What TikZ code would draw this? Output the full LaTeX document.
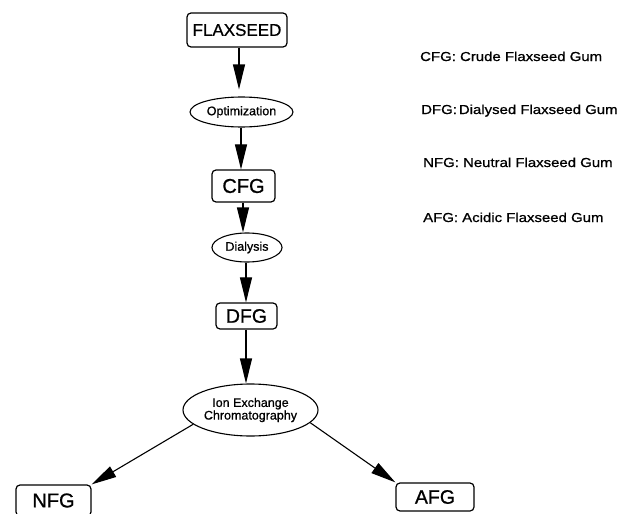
\documentclass[tikz,border=0pt]{standalone}
\usepackage{fontspec}
\setmainfont[FakeBold=0.8]{Liberation Sans}
\newfontfamily\legendfont[FakeStretch=1.15,FakeBold=0.8]{Liberation Sans}
\usetikzlibrary{arrows.meta,shapes.geometric}
\tikzset{
  box/.style={draw,rounded corners=4pt,line width=1.2pt,inner sep=0pt,align=center},
  oval/.style={draw,ellipse,line width=1.1pt,inner sep=0pt,align=center,font=\fontsize{12.5}{11}\selectfont},
  arr/.style={line width=1.1pt,-{Triangle[length=25pt,width=12pt]}},
  legend/.style={anchor=base west,inner sep=0pt,font=\legendfont\fontsize{13}{15}\selectfont}
}
\begin{document}
\begin{tikzpicture}[x=1pt,y=-1pt]
\useasboundingbox (0,0) rectangle (622,514);
% boxes
\node[box,minimum width=100pt,minimum height=34pt,font=\fontsize{17}{20}\selectfont] (flax) at (237,30) {FLAXSEED};
\node[box,minimum width=63pt,minimum height=32pt,font=\fontsize{20}{22}\selectfont] (cfg) at (243.5,186) {CFG};
\node[box,minimum width=61pt,minimum height=26pt,font=\fontsize{19.5}{22}\selectfont] (dfg) at (246.5,316) {DFG};
\node[box,minimum width=75pt,minimum height=31pt,font=\fontsize{20}{22}\selectfont] (nfg) at (53.5,500.5) {NFG};
\node[box,minimum width=78pt,minimum height=28pt,font=\fontsize{19.5}{22}\selectfont] (afg) at (435,497) {AFG};
% ellipses
\node[oval,minimum width=103pt,minimum height=30pt] (opt) at (241.5,112) {Optimization};
\node[oval,minimum width=70pt,minimum height=29pt] (dia) at (247,247.5) {Dialysis};
\node[oval,minimum width=135pt,minimum height=52pt] (ion) at (250.5,410) {Ion Exchange\\Chromatography};
% column coordinates
\coordinate (c1) at (239,0);
\coordinate (c2) at (241,0);
\coordinate (c3) at (243,0);
\coordinate (c4) at (246,0);
% connectors
\draw[arr] (flax.south -| c1) -- ([yshift=7pt]opt.north -| c1);
\draw[arr] (opt.south -| c2) -- (cfg.north -| c2);
\draw[arr] (cfg.south -| c3) -- (dia.north -| c3);
\draw[arr] (dia.south -| c4) -- (dfg.north -| c4);
\draw[arr] (dfg.south -| c4) -- (ion.north -| c4);
\draw[arr] (ion.194.6) -- (nfg.north east);
\draw[arr] (ion.348) -- (afg.north west);
% legend
\node[legend] (l1) at (420,61) {CFG: Crude Flaxseed Gum};
\node[legend] (l2) at (421,114) {DFG:\hspace{2pt}Dialysed Flaxseed Gum};
\node[legend] (l3) at (423,167) {NFG: Neutral Flaxseed Gum};
\node[legend] (l4) at (423,222) {AFG: Acidic Flaxseed Gum};
\end{tikzpicture}
\end{document}
